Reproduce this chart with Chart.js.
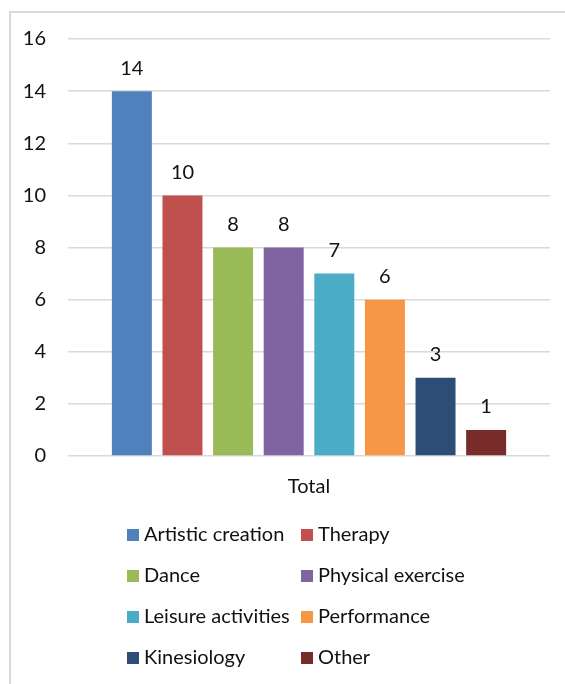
<!DOCTYPE html>
<html>
<head>
<meta charset="utf-8">
<script src="https://cdn.jsdelivr.net/npm/chart.js@4.4.1/dist/chart.umd.min.js"></script>
<style>
  html, body { margin: 0; padding: 0; background: #fff; }
  #wrap { position: relative; width: 565px; height: 684px; overflow: hidden; }
  #frame { position: absolute; left: 9px; top: 11px; width: 700px; height: 800px;
           border-left: 2px solid #d9d9d9; border-top: 2px solid #d9d9d9; box-sizing: border-box; }
  canvas { position: absolute; left: 0; top: 0; }
</style>
</head>
<body>
<div id="wrap">
  <div id="frame"></div>
  <canvas id="c" width="565" height="684"></canvas>
</div>
<script>
const categories = ['Total'];
const seriesNames = ['Artistic creation', 'Therapy', 'Dance', 'Physical exercise',
                     'Leisure activities', 'Performance', 'Kinesiology', 'Other'];
const seriesValues = [14, 10, 8, 8, 7, 6, 3, 1];
const seriesColors = ['#4F81BD', '#C0504D', '#9BBB59', '#8064A2',
                      '#4BACC6', '#F79646', '#2C4D75', '#772C2A'];
const yTickMax = 16;
const yTickStep = 2;

const FONT = 'Lato, "Open Sans", sans-serif';
const TEXT = '#111';

const datasets = seriesNames.map((name, i) => ({
  label: name,
  data: [seriesValues[i]],
  backgroundColor: seriesColors[i],
  borderWidth: 0,
  categoryPercentage: 0.84,
  barPercentage: 0.79
}));

// numbers above each bar
const valueLabels = {
  id: 'valueLabels',
  afterDatasetsDraw(chart) {
    const ctx = chart.ctx;
    ctx.save();
    ctx.font = '20px ' + FONT;
    ctx.fillStyle = TEXT;
    ctx.textAlign = 'center';
    ctx.textBaseline = 'middle';
    chart.data.datasets.forEach((ds, i) => {
      const bar = chart.getDatasetMeta(i).data[0];
      ctx.fillText(String(ds.data[0]), bar.x, bar.y - 23);
    });
    ctx.restore();
  }
};

// two-column legend below the axis
const gridLegend = {
  id: 'gridLegend',
  afterDraw(chart) {
    const ctx = chart.ctx;
    const area = chart.chartArea;
    const mid = (area.left + area.right) / 2;
    const colX = [mid - 182, mid - 8];
    const rowY0 = area.bottom + 79;
    const rowGap = 41;
    const box = 12;
    ctx.save();
    ctx.font = '20px ' + FONT;
    ctx.textBaseline = 'middle';
    ctx.textAlign = 'left';
    chart.data.datasets.forEach((ds, i) => {
      const x = colX[i % 2];
      const y = rowY0 + Math.floor(i / 2) * rowGap;
      ctx.fillStyle = ds.backgroundColor;
      ctx.fillRect(x, y - box / 2, box, box);
      ctx.fillStyle = TEXT;
      ctx.fillText(ds.label, x + box + 5, y);
    });
    ctx.restore();
  }
};

new Chart(document.getElementById('c'), {
  type: 'bar',
  data: { labels: categories, datasets },
  options: {
    responsive: false,
    animation: false,
    layout: { padding: { left: 0, right: 15, top: 39, bottom: 0 } },
    plugins: {
      legend: { display: false },
      tooltip: { enabled: false }
    },
    scales: {
      x: {
        grid: { display: false, drawTicks: false },
        border: { display: false },
        ticks: { color: TEXT, font: { family: FONT, size: 20 }, padding: 19 },
        afterFit(scale) { scale.height = 228; }
      },
      y: {
        min: 0,
        max: yTickMax,
        ticks: { stepSize: yTickStep, color: TEXT, font: { family: FONT, size: 20 }, padding: 22 },
        grid: { color: '#d9d9d9', lineWidth: 1.5, drawTicks: false },
        border: { display: false },
        afterFit(scale) { scale.width = 68; }
      }
    }
  },
  plugins: [valueLabels, gridLegend]
});
</script>
</body>
</html>
